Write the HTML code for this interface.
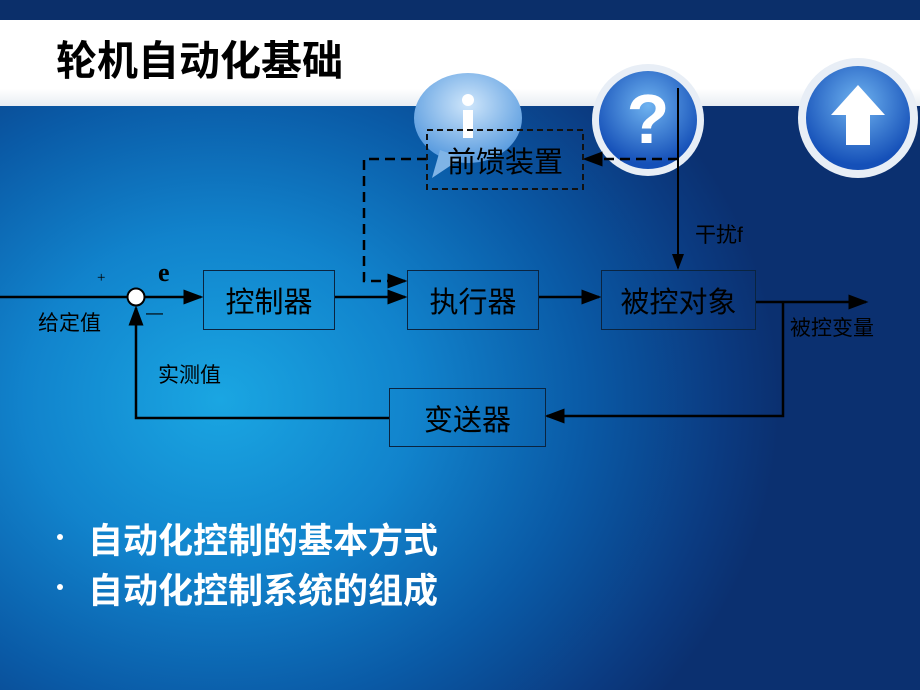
<!DOCTYPE html>
<html><head><meta charset="utf-8"><style>
body{margin:0;width:920px;height:690px;overflow:hidden;position:relative;font-family:"Liberation Sans","Noto Sans CJK SC",sans-serif;
background:radial-gradient(ellipse 560px 480px at 220px 400px,#1aa6e2 0%,#1183cc 35%,#0a5aa6 65%,#0b3a80 90%,#0b3070 100%);}
.top{position:absolute;left:0;top:0;width:920px;height:20px;background:#0b2f6a}
.white{position:absolute;left:0;top:20px;width:920px;height:86px;background:linear-gradient(#fff 80%,#e8edf3)}
.title{position:absolute;left:56px;top:27px;font:bold 41px "Liberation Sans","Noto Sans CJK SC",sans-serif;color:#000}
.box{position:absolute;border:1.5px solid #0a2440;box-sizing:border-box;color:#000;font-size:29px;display:flex;align-items:center;justify-content:center}
.lbl{position:absolute;color:#000;font-size:21px}
.bul{position:absolute;left:88px;color:#fff;font:bold 35px "Liberation Sans","Noto Sans CJK SC",sans-serif}
.dot{position:absolute;left:57px;width:6px;height:6px;border-radius:50%;background:#fff}
svg{position:absolute;left:0;top:0}
</style></head><body>
<div class="top"></div><div class="white"></div>
<div class="title">轮机自动化基础</div>
<svg width="920" height="690">
<defs>
<radialGradient id="gb" cx="50%" cy="35%" r="60%"><stop offset="0" stop-color="#6fb3f0"/><stop offset="1" stop-color="#1550b8"/></radialGradient>
<radialGradient id="gi" cx="50%" cy="35%" r="60%"><stop offset="0" stop-color="#cfe6fb"/><stop offset="1" stop-color="#5d9ee0"/></radialGradient>
<marker id="a" markerWidth="8" markerHeight="8" refX="7" refY="4" orient="auto"><path d="M0,1 L8,4 L0,7z" fill="#000"/></marker>
</defs>
<ellipse cx="468" cy="118" rx="54" ry="45" fill="url(#gi)"/>
<path d="M440,150 L432,178 L462,158z" fill="#7fb4e6"/>
<circle cx="468" cy="100" r="6" fill="#fff"/><rect x="463" y="110" width="10" height="28" fill="#fff"/>
<circle cx="648" cy="120" r="56" fill="#e8eef6"/><circle cx="648" cy="120" r="49" fill="url(#gb)"/>
<text x="648" y="143" font-size="70" font-weight="bold" fill="#fff" text-anchor="middle" font-family="Liberation Sans">?</text>
<circle cx="858" cy="118" r="60" fill="#e8eef6"/><circle cx="858" cy="118" r="52" fill="url(#gb)"/>
<path d="M858,85 L885,115 L870,115 L870,145 L846,145 L846,115 L831,115z" fill="#fff"/>
<g stroke="#000" stroke-width="2.5" fill="none">
<line x1="0" y1="297" x2="127" y2="297"/>
<line x1="145" y1="297" x2="201" y2="297" marker-end="url(#a)"/>
<line x1="334" y1="297" x2="405" y2="297" marker-end="url(#a)"/>
<line x1="538" y1="297" x2="599" y2="297" marker-end="url(#a)"/>
<line x1="755" y1="302" x2="866" y2="302" marker-end="url(#a)"/>
<polyline points="783,302 783,416 547,416" marker-end="url(#a)"/>
<polyline points="389,418 136,418 136,308" marker-end="url(#a)"/>
<line x1="678" y1="88" x2="678" y2="268" stroke-width="2" marker-end="url(#a)"/>
<g stroke-dasharray="10,6"><polyline points="678,159 585,159" marker-end="url(#a)"/>
<polyline points="427,159 364,159 364,281 405,281" marker-end="url(#a)"/></g>
</g>
<circle cx="136" cy="297" r="8.5" fill="#fff" stroke="#000" stroke-width="2"/>
<rect x="427" y="130" width="156" height="59" fill="none" stroke="#111" stroke-width="2" stroke-dasharray="6,4"/>
</svg>
<div class="box" style="left:203px;top:270px;width:132px;height:60px">控制器</div>
<div class="box" style="left:407px;top:270px;width:132px;height:60px">执行器</div>
<div class="box" style="left:601px;top:270px;width:155px;height:60px">被控对象</div>
<div class="box" style="left:389px;top:388px;width:157px;height:59px">变送器</div>
<div class="box" style="left:427px;top:130px;width:156px;height:59px;border:none">前馈装置</div>
<div class="lbl" style="left:97px;top:270px;font-size:15px;font-family:'Liberation Serif',serif">+</div>
<div class="lbl" style="left:158px;top:258px;font-size:26px;font-weight:bold;font-family:'Liberation Serif',serif">e</div>
<div class="lbl" style="left:146px;top:303px;font-size:17px">—</div>
<div class="lbl" style="left:38px;top:307px">给定值</div>
<div class="lbl" style="left:158px;top:359px">实测值</div>
<div class="lbl" style="left:695px;top:219px">干扰f</div>
<div class="lbl" style="left:790px;top:312px">被控变量</div>
<div class="dot" style="top:534px"></div><div class="bul" style="top:513px">自动化控制的基本方式</div>
<div class="dot" style="top:584px"></div><div class="bul" style="top:563px">自动化控制系统的组成</div>
</body></html>
